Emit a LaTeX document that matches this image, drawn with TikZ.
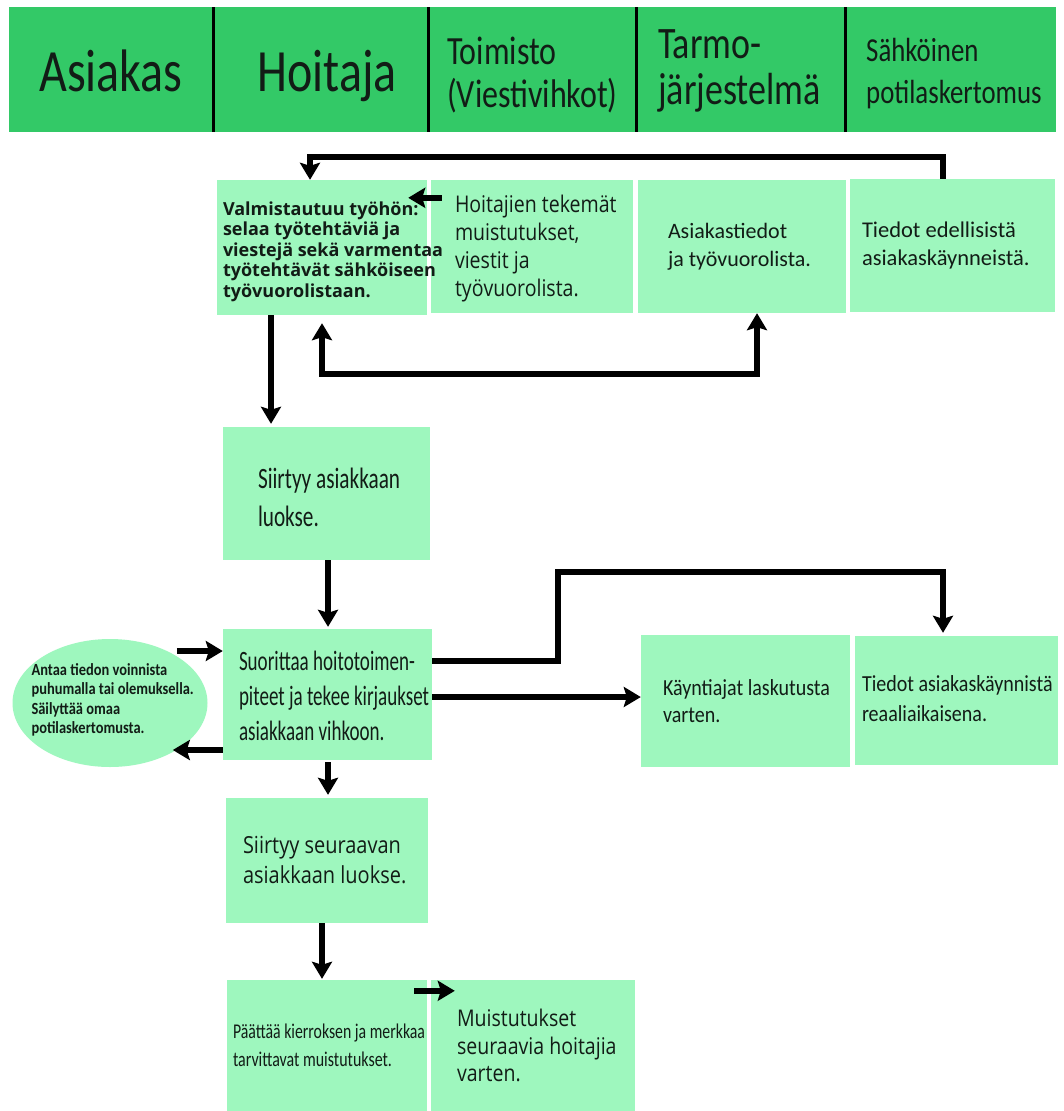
\documentclass[tikz,border=0pt]{standalone}
\usepackage{fontspec}
\usepackage{graphicx}
\setmainfont{Carlito}
\newfontfamily\hdrf{Carlito}[FakeStretch=0.8]
\newfontfamily\osf{Open Sans}
\newfontfamily\osfc{Open Sans}[FakeStretch=0.85]
\newfontfamily\carlE{Carlito}[FakeStretch=0.72]
\newfontfamily\carlF{Carlito}[FakeStretch=0.68]
\newfontfamily\carlK{Carlito}[FakeStretch=0.87]
\newfontfamily\carlG{Carlito}[FakeStretch=0.85]
\usetikzlibrary{arrows.meta,calc,shapes.geometric}
\definecolor{hdrgreen}{RGB}{51,201,103}
\definecolor{boxgreen}{RGB}{158,247,190}
\definecolor{ink}{RGB}{18,28,22}
\tikzset{
  bx/.style 2 args={fill=boxgreen,draw=none,inner sep=0pt,minimum width=#1,minimum height=#2},
  txt/.style={anchor=west,align=left,inner sep=0pt,text=ink},
  hd/.style={inner sep=0pt,text=ink,align=left},
  tip/.style={-{Stealth[length=17pt,width=20pt,inset=3pt]}},
  arr/.style={line width=5.5pt,tip},
  dbl/.style={line width=5.5pt,{Stealth[length=17pt,width=20pt,inset=3pt]}-{Stealth[length=17pt,width=20pt,inset=3pt]}},
  divider/.style={line width=3pt,black}
}
\begin{document}
\begin{tikzpicture}[x=1pt,y=-1pt]
\useasboundingbox (0,0) rectangle (1064,1111);
\fill[white] (0,0) rectangle (1064,1111);
% header
\node[fill=hdrgreen,inner sep=0pt,minimum width=1047pt,minimum height=125pt] (hdr) at (532.5,69.5) {};
\draw[divider] (213,7) -- (213,132);
\draw[divider] (428,7) -- (428,132);
\draw[divider] (636,7) -- (636,132);
\draw[divider] (845,7) -- (845,132);
\node[hd,anchor=base,font={\hdrf\fontsize{60}{60}\selectfont}] (h1) at (111,91) {Asiakas};
\node[hd,anchor=base,font={\hdrf\fontsize{60}{60}\selectfont}] (h2) at (327,91) {Hoitaja};
\node[hd,anchor=west,font={\hdrf\fontsize{40}{43}\selectfont}] (h3) at (447,75) {Toimisto\\(Viestivihkot)};
\node[hd,anchor=west,font={\hdrf\fontsize{45}{46}\selectfont}] (h4) at (658,71) {Tarmo-\\järjestelmä};
\node[hd,anchor=west,font={\hdrf\fontsize{33.5}{42}\selectfont}] (h5) at (866,74) {Sähköinen\\potilaskertomus};
% boxes
\node[bx={210pt}{135pt}] (bA) at (322,247.5) {};
\node[bx={202pt}{133pt}] (bB) at (532,246.5) {};
\node[bx={208pt}{133pt}] (bC) at (742,246.5) {};
\node[bx={205pt}{133pt}] (bD) at (952.5,245.5) {};
\node[bx={207pt}{133pt}] (bE) at (326.5,493.5) {};
\node[bx={209pt}{131pt}] (bF) at (327.5,694.5) {};
\node[ellipse,fill=boxgreen,inner sep=0pt,minimum width=195pt,minimum height=128pt] (bG) at (110,703) {};
\node[bx={202pt}{125pt}] (bH) at (327,860.5) {};
\node[bx={200pt}{131pt}] (bI) at (327,1045.5) {};
\node[bx={204pt}{131pt}] (bJ) at (533,1045.5) {};
\node[bx={209pt}{132pt}] (bK) at (745.5,701) {};
\node[bx={203pt}{129pt}] (bL) at (956.5,700.5) {};
% texts
\node[txt,font={\osf\bfseries\fontsize{18}{20.5}\selectfont}] (tA) at ($(bA.west)+(6,4)$) {Valmistautuu työhön:\\selaa työtehtäviä ja\\viestejä sekä varmentaa\\työtehtävät sähköiseen\\työvuorolistaan.};
\node[txt,font={\osfc\fontsize{23}{28.3}\selectfont}] (tB) at ($(bB.west)+(24,2)$) {Hoitajien tekemät\\muistutukset,\\viestit ja\\työvuorolista.};
\node[txt,font={\fontsize{22}{28}\selectfont}] (tC) at ($(bC.west)+(30,0)$) {Asiakastiedot\\ja työvuorolista.};
\node[txt,font={\fontsize{22.5}{28}\selectfont}] (tD) at ($(bD.west)+(12,0)$) {Tiedot edellisistä\\asiakaskäynneistä.};
\node[txt,font={\carlE\fontsize{29.5}{38}\selectfont}] (tE) at ($(bE.west)+(35,4)$) {Siirtyy asiakkaan\\luokse.};
\node[txt,font={\carlF\fontsize{28}{35}\selectfont}] (tF) at ($(bF.west)+(16,1)$) {Suorittaa hoitotoimen-\\piteet ja tekee kirjaukset\\asiakkaan vihkoon.};
\node[txt,font={\carlG\bfseries\fontsize{17}{19.5}\selectfont}] (tG) at ($(bG.west)+(19,-3)$) {Antaa tiedon voinnista\\puhumalla tai olemuksella.\\Säilyttää omaa\\potilaskertomusta.};
\node[txt,font={\osfc\fontsize{23.5}{30}\selectfont}] (tH) at ($(bH.west)+(17,0)$) {Siirtyy seuraavan\\asiakkaan luokse.};
\node[txt,font={\fontsize{21}{28}\selectfont}] (tI) at ($(bI.west)+(6,0)$) {\resizebox{192pt}{\height}{Päättää kierroksen ja merkkaa}\\\resizebox{159pt}{\height}{tarvittavat muistutukset.}};
\node[txt,font={\osfc\fontsize{23}{27.5}\selectfont}] (tJ) at ($(bJ.west)+(26,0)$) {Muistutukset\\seuraavia hoitajia\\varten.};
\node[txt,font={\carlK\fontsize{23}{27}\selectfont}] (tK) at ($(bK.west)+(22,0)$) {Käyntiajat laskutusta\\varten.};
\node[txt,font={\carlK\fontsize{23}{30}\selectfont}] (tL) at ($(bL.west)+(7,-2)$) {Tiedot asiakaskäynnistä\\reaaliaikaisena.};
% connectors
\draw[arr] ([xshift=-9.5pt]bD.north) -- ++(0,-22) -| ([xshift=-12pt]bA.north);
\draw[arr] ([xshift=11pt,yshift=-18pt]bB.north west) -- ([xshift=-19pt,yshift=-18pt]bA.north east);
\draw[dbl] ([xshift=0pt,yshift=-8pt]bA.south) -- ++(0,51) -| ([xshift=15pt]bC.south);
\coordinate (aE) at ([xshift=-51pt]bA.south);
\draw[arr,shorten >=3pt] (aE) -- (aE |- bE.north);
\coordinate (eF) at ([xshift=1.5pt]bE.south);
\draw[arr,shorten >=2pt] (eF) -- (eF |- bF.north);
\coordinate (fH) at ([xshift=0.5pt,yshift=-2pt]bF.south);
\draw[arr,shorten >=3pt] (fH) -- (fH |- bH.north);
\coordinate (hI) at ([xshift=-5pt]bH.south);
\draw[arr,shorten >=1pt] (hI) -- (hI |- bI.north);
\draw[arr] ([xshift=-13pt,yshift=-11pt]bI.north east) -- ([xshift=24pt,yshift=-11pt]bJ.north west);
\draw[arr] ([xshift=-46pt,yshift=43.5pt]bF.west) -- ([yshift=43.5pt]bF.west);
\draw[arr] ([yshift=-55.5pt]bF.west) -- ([xshift=-50pt,yshift=-55.5pt]bF.west);
\draw[arr,shorten >=3pt] ([yshift=33.5pt]bF.east) -- ++(126,0) -- ++(0,-89) -| ([xshift=-13.5pt]bL.north);
\coordinate (fK) at ([yshift=-2.5pt]bF.east);
\draw[arr] (fK) -- (fK -| bK.west);
\end{tikzpicture}
\end{document}
